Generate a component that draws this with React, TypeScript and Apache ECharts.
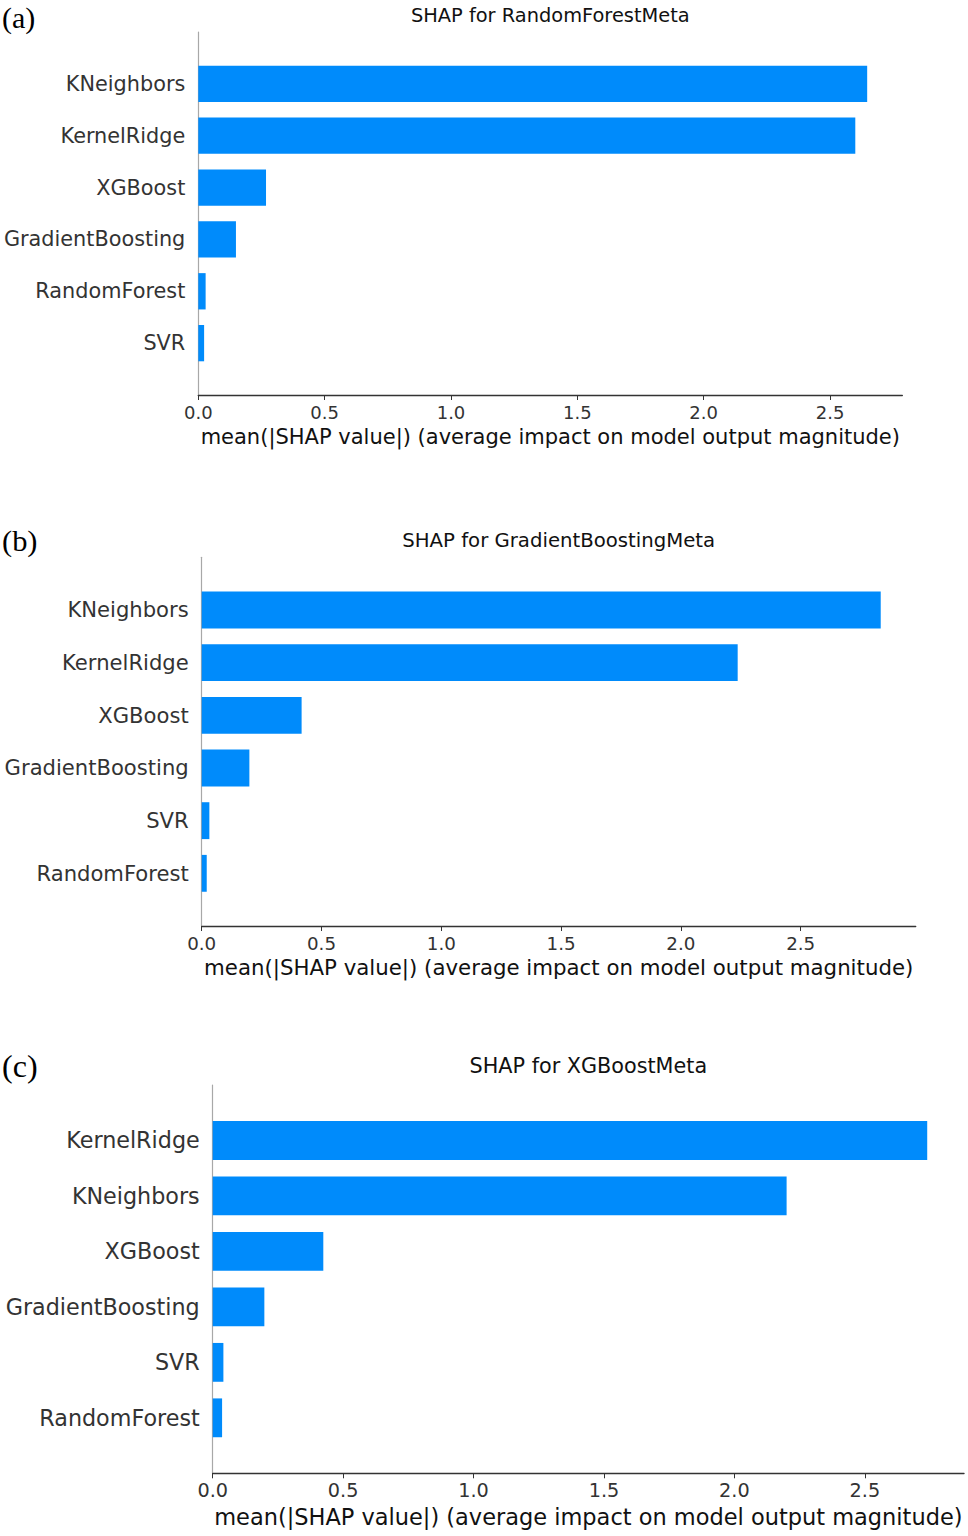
import { useEffect, useRef } from 'react';
import * as echarts from 'echarts';

// panel (a) SHAP for RandomForestMeta
const namesA = ['KNeighbors', 'KernelRidge', 'XGBoost', 'GradientBoosting', 'RandomForest', 'SVR'];
const valuesA = [2.647, 2.6, 0.268, 0.149, 0.029, 0.023];

// panel (b) SHAP for GradientBoostingMeta
const namesB = ['KNeighbors', 'KernelRidge', 'XGBoost', 'GradientBoosting', 'SVR', 'RandomForest'];
const valuesB = [2.834, 2.237, 0.417, 0.199, 0.032, 0.021];

// panel (c) SHAP for XGBoostMeta
const namesC = ['KernelRidge', 'KNeighbors', 'XGBoost', 'GradientBoosting', 'SVR', 'RandomForest'];
const valuesC = [2.739, 2.2, 0.424, 0.198, 0.041, 0.036];

const xTicks = [0, 0.5, 1.0, 1.5, 2.0, 2.5];
const xAxisName = 'mean(|SHAP value|) (average impact on model output magnitude)';

const panels = [
  { tag: '(a)', title: 'SHAP for RandomForestMeta', names: namesA, values: valuesA,
    left: 198.3, right: 902.3, top: 32, bottom: 395, xMax: 2.786, k: 1.0, tagY: 17, titleY: 15 },
  { tag: '(b)', title: 'SHAP for GradientBoostingMeta', names: namesB, values: valuesB,
    left: 201.7, right: 915.7, top: 557.3, bottom: 926, xMax: 2.98, k: 1.015, tagY: 541, titleY: 540 },
  { tag: '(c)', title: 'SHAP for XGBoostMeta', names: namesC, values: valuesC,
    left: 212.7, right: 964, top: 1085, bottom: 1473.3, xMax: 2.88, k: 1.07, tagY: 1066, titleY: 1066 },
];

const FONT = '"DejaVu Sans", sans-serif';
const BAR_COLOR = '#008bfb';
const TEXT_COLOR = '#333333';

export default function App() {
  const chartRef = useRef<HTMLDivElement>(null);

  useEffect(() => {
    if (!chartRef.current) return;
    const chart = echarts.init(chartRef.current, null, { renderer: 'svg' });

    const option: any = {
      animation: false,
      backgroundColor: '#ffffff',
      grid: panels.map(p => ({
        left: p.left,
        top: p.top,
        width: p.right - p.left,
        height: p.bottom - p.top,
        outerBoundsMode: 'none',
      })),
      xAxis: panels.map((p, i) => ({
        type: 'value',
        gridIndex: i,
        min: 0,
        max: p.xMax,
        interval: 0.5,
        splitLine: { show: false },
        axisLine: { show: true, lineStyle: { color: '#333333', width: 1.4 } },
        axisTick: { show: true, length: 5, customValues: xTicks, lineStyle: { color: '#333333' } },
        axisLabel: {
          customValues: xTicks,
          formatter: (v: number) => v.toFixed(1),
          color: TEXT_COLOR,
          fontFamily: FONT,
          fontSize: 18 * p.k,
          margin: 8,
        },
        name: xAxisName,
        nameLocation: 'middle',
        nameGap: 31 * p.k,
        nameTextStyle: { color: '#111111', fontFamily: FONT, fontSize: 21 * p.k },
      })),
      yAxis: panels.map((p, i) => ({
        type: 'category',
        gridIndex: i,
        inverse: true,
        boundaryGap: false,
        data: ['', ...p.names, ''],
        axisLine: { show: true, lineStyle: { color: '#a8a8a8', width: 1.2 } },
        axisTick: { show: false },
        splitLine: { show: false },
        axisLabel: {
          interval: 0,
          color: TEXT_COLOR,
          fontFamily: FONT,
          fontSize: 20.8 * p.k,
          margin: 13,
        },
      })),
      series: panels.map((p, i) => ({
        type: 'bar',
        xAxisIndex: i,
        yAxisIndex: i,
        data: ['-', ...p.values, '-'],
        barWidth: ((p.bottom - p.top) / 7) * 0.7,
        itemStyle: { color: BAR_COLOR },
      })),
      graphic: panels.flatMap(p => [
        {
          type: 'text',
          x: 2,
          y: p.tagY,
          style: {
            text: p.tag,
            font: `${30 * p.k}px "Liberation Serif", "Times New Roman", serif`,
            fill: '#000000',
            verticalAlign: 'middle',
          },
        },
        {
          type: 'text',
          x: (p.left + p.right) / 2,
          y: p.titleY,
          style: {
            text: p.title,
            font: `${19.4 * p.k}px ${FONT}`,
            fill: '#111111',
            align: 'center',
            verticalAlign: 'middle',
          },
        },
      ]),
    };

    chart.setOption(option);

    return () => {
      chart.dispose();
    };
  }, []);

  return (
    <div
      ref={chartRef}
      style={{ position: 'absolute', left: 0, top: 0, width: 968, height: 1536 }}
    />
  );
}
